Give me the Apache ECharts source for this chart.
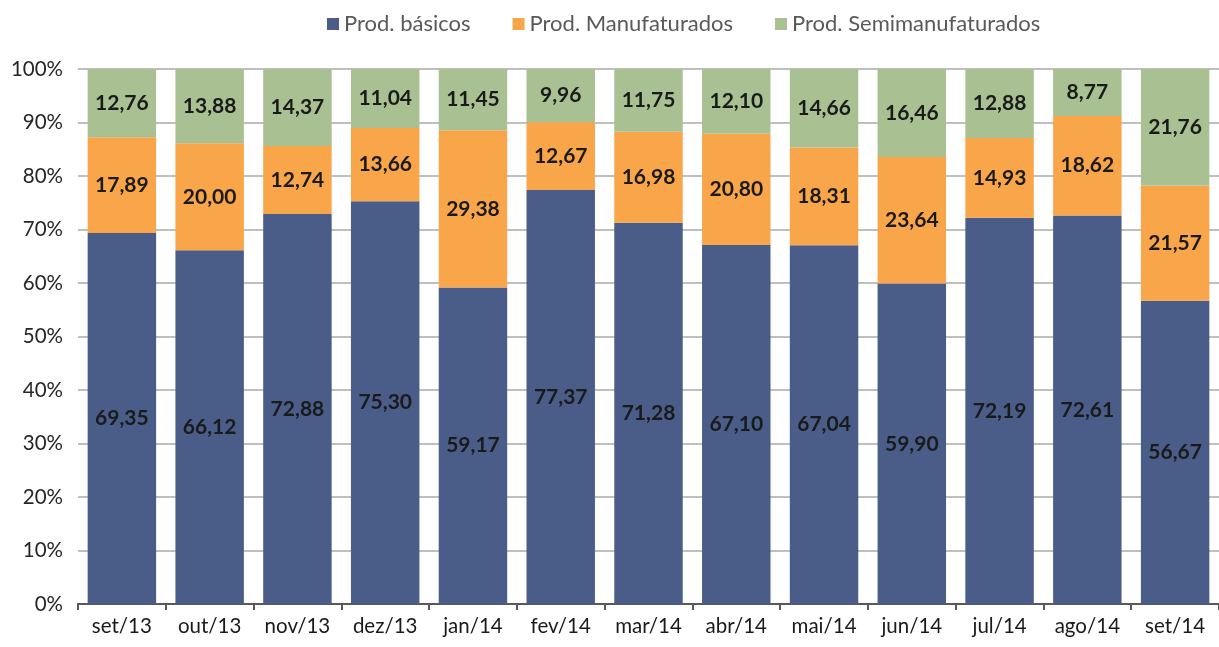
<!DOCTYPE html>
<html>
<head>
<meta charset="utf-8">
<script src="https://cdn.jsdelivr.net/npm/echarts@6/dist/echarts.min.js"></script>
<style>
  html, body { margin: 0; padding: 0; background: #fff; }
  #chart { width: 1219px; height: 647px; }
</style>
</head>
<body>
<div id="chart"></div>
<script>
var months = ["set/13", "out/13", "nov/13", "dez/13", "jan/14", "fev/14", "mar/14",
  "abr/14", "mai/14", "jun/14", "jul/14", "ago/14", "set/14"];
var basicos = [69.35, 66.12, 72.88, 75.30, 59.17, 77.37, 71.28, 67.10, 67.04, 59.90, 72.19, 72.61, 56.67];
var manufaturados = [17.89, 20.00, 12.74, 13.66, 29.38, 12.67, 16.98, 20.80, 18.31, 23.64, 14.93, 18.62, 21.57];
var semimanufaturados = [12.76, 13.88, 14.37, 11.04, 11.45, 9.96, 11.75, 12.10, 14.66, 16.46, 12.88, 8.77, 21.76];

var fontFam = "Lato, 'Open Sans', sans-serif";

// rótulo com vírgula decimal
function fmt(p) {
  return p.value.toFixed(2).replace(".", ",");
}

function serie(nome, dados, cor) {
  return {
    name: nome,
    type: "bar",
    stack: "total",
    barCategoryGap: "22%",
    data: dados,
    itemStyle: { color: cor },
    label: {
      show: true,
      position: "inside",
      formatter: fmt,
      color: "#1a1a1a",
      fontFamily: fontFam,
      fontWeight: "bold",
      fontSize: 21
    }
  };
}

var myChart = echarts.init(document.getElementById("chart"));
var option = {
  animation: false,
  legend: {
    top: 8,
    left: 322,
    itemWidth: 12,
    itemHeight: 12,
    itemGap: 42,
    icon: "rect",
    textStyle: { color: "#595959", fontSize: 22, fontFamily: fontFam }
  },
  grid: { left: 78, right: 0, top: 69, bottom: 43 },
  xAxis: {
    type: "category",
    data: months,
    axisLine: { lineStyle: { color: "#595959", width: 2 } },
    axisTick: { show: true, length: 6, lineStyle: { color: "#595959", width: 2 } },
    axisLabel: { color: "#1a1a1a", fontSize: 20.5, fontFamily: fontFam, margin: 12 }
  },
  yAxis: {
    type: "value",
    min: 0,
    max: 100,
    interval: 10,
    axisLine: { show: false },
    axisTick: { show: false },
    splitLine: { lineStyle: { color: "#bfbfbf", width: 2 } },
    axisLabel: {
      formatter: "{value}%",
      color: "#262626",
      fontSize: 20.5,
      fontFamily: fontFam,
      margin: 15
    }
  },
  series: [
    serie("Prod. básicos", basicos, "#4a5d89"),
    serie("Prod. Manufaturados", manufaturados, "#f9a64a"),
    serie("Prod. Semimanufaturados", semimanufaturados, "#a9c092")
  ]
};
myChart.setOption(option);
</script>
</body>
</html>
